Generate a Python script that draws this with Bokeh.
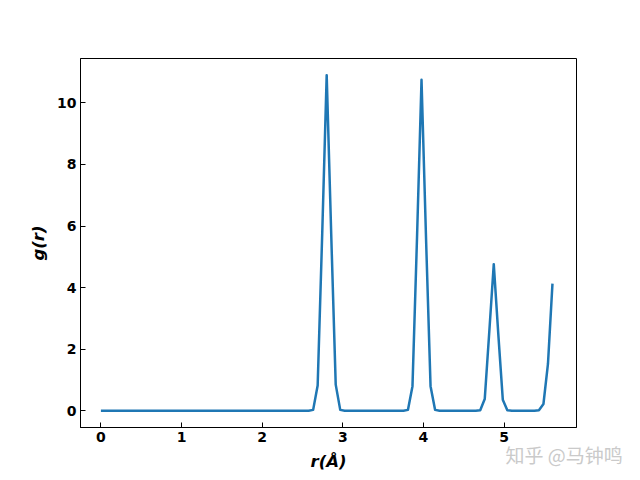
from bokeh.embed import file_html
from bokeh.models import FixedTicker, Label, Range1d
from bokeh.plotting import figure
from bokeh.resources import INLINE

# r grid points (Angstrom) where the g(r) curve changes slope, and g(r) values there
r = [0.0, 2.576, 2.632, 2.688, 2.744, 2.8, 2.856, 2.912, 2.968, 3.024,
     3.752, 3.808, 3.864, 3.92, 3.976, 4.032, 4.088, 4.144, 4.2,
     4.648, 4.704, 4.76, 4.816, 4.872, 4.928, 4.984, 5.04, 5.096,
     5.376, 5.432, 5.488, 5.544, 5.6]
g = [0.0, 0.0, 0.03, 0.82, 5.7, 10.9, 5.75, 0.85, 0.03, 0.0,
     0.0, 0.03, 0.8, 5.6, 10.75, 5.6, 0.8, 0.03, 0.0,
     0.0, 0.02, 0.38, 2.55, 4.76, 2.5, 0.36, 0.02, 0.0,
     0.0, 0.02, 0.22, 1.52, 4.13]

x_ticks = [0, 1, 2, 3, 4, 5]
y_ticks = [0, 2, 4, 6, 8, 10]

p = figure(
    width=640,
    height=480,
    output_backend="svg",
    toolbar_location=None,
    x_range=Range1d(-0.253, 5.898),
    y_range=Range1d(-0.543, 11.44),
    min_border_left=80,
    min_border_right=64,
    min_border_top=58,
    min_border_bottom=53,
)
p.grid.grid_line_color = None
p.outline_line_color = "black"
p.outline_line_width = 1
p.outline_line_alpha = 1

for ax in (p.xaxis, p.yaxis):
    ax.axis_line_color = "black"
    ax.major_tick_in = 5
    ax.major_tick_out = 0
    ax.minor_tick_line_color = None
    ax.major_label_text_font = "DejaVu Sans"
    ax.major_label_text_font_style = "bold"
    ax.major_label_text_font_size = "14px"
    ax.major_label_text_color = "black"
    ax.axis_label_text_font = "DejaVu Sans"
    ax.axis_label_text_font_style = "bold italic"
    ax.axis_label_text_font_size = "16.5px"
    ax.axis_label_text_color = "black"
    ax.major_label_standoff = 4

p.xaxis.ticker = FixedTicker(ticks=x_ticks)
p.yaxis.ticker = FixedTicker(ticks=y_ticks)
p.xaxis.axis_label = "r(Å)"
p.yaxis.axis_label = "g(r)"
p.xaxis.axis_label_standoff = 7
p.yaxis.axis_label_standoff = 6

p.line(r, g, color="#1f77b4", line_width=2.5, line_join="round")

# watermark bottom right; held by the empty top panel so it is not clipped
p.add_layout(Label(
    x=425, y=-396, x_units="screen", y_units="screen", text="知乎 @马钟鸣",
    text_font="Noto Sans CJK SC", text_font_size="19px",
    text_color="#cacaca", text_baseline="alphabetic",
), "above")

open("out.html", "w").write(file_html(p, INLINE))
